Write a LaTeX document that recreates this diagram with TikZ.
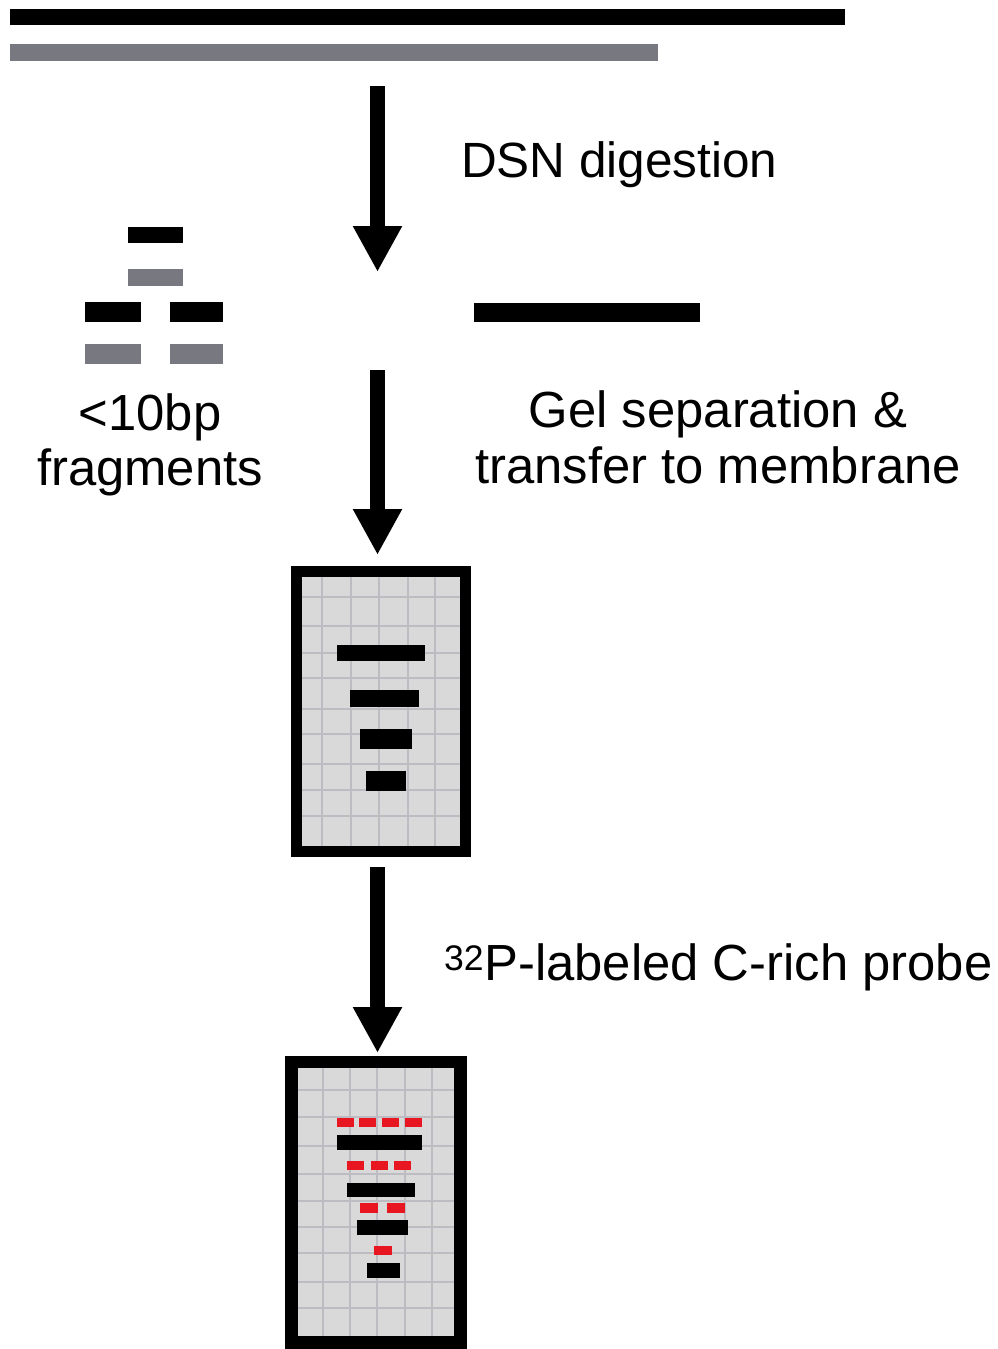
\documentclass[tikz,border=0pt]{standalone}
\usepackage{fontspec}
\setmainfont{Liberation Sans}
\usetikzlibrary{arrows.meta}
\definecolor{strandgray}{RGB}{120,120,128}
\definecolor{probered}{RGB}{232,22,32}
\definecolor{gelfill}{RGB}{217,217,217}
\definecolor{gridgray}{RGB}{188,188,194}
\tikzset{
  bigarrow/.style={line width=15pt, -{Triangle[length=46pt,width=46pt]}},
  labeltext/.style={inner sep=0pt, font=\fontsize{50.8}{56}\selectfont},
  gelbody/.style={fill=gelfill, inner sep=0pt},
  gelgrid/.style={draw=gridgray, line width=2pt},
  black strand/.style={fill=black},
  gray strand/.style={fill=strandgray},
  probe/.style={fill=probered},
}
\begin{document}
\begin{tikzpicture}[x=1pt,y=-1pt]
\useasboundingbox (0,0) rectangle (998,1349);

% duplex DNA
\fill[black strand] (10,9) rectangle (845,25);
\fill[gray strand] (10,44) rectangle (658,61);

% digestion step
\coordinate (a1s) at (377.5,86);
\coordinate (a1e) at (377.5,272);
\draw[bigarrow] (a1s) -- (a1e);
\node[labeltext, font=\fontsize{49.5}{56}\selectfont, anchor=base west] (dsn) at (461,177) {DSN digestion};

% short fragments
\fill[black strand] (128,227) rectangle (183,243);
\fill[gray strand] (128,269) rectangle (183,286);
\fill[black strand] (85,302) rectangle (141,322);
\fill[black strand] (170,302) rectangle (223,322);
\fill[gray strand] (85,344) rectangle (141,364);
\fill[gray strand] (170,344) rectangle (223,364);
\node[labeltext, anchor=base] (frag1) at (150,430) {<10bp};
\node[labeltext, anchor=base] (frag2) at (150,485) {fragments};

% surviving strand
\fill[black strand] (474,303) rectangle (700,322);

% gel step
\coordinate (a2s) at (377.5,370);
\coordinate (a2e) at (377.5,555);
\draw[bigarrow] (a2s) -- (a2e);
\node[labeltext, anchor=base] (gel1a) at (718,427) {Gel separation \&};
\node[labeltext, anchor=base] (gel1b) at (718,483) {transfer to membrane};

% membrane 1
\node[gelbody, minimum width=169pt, minimum height=280pt] (mem1) at (381,711.5) {};
\foreach \gx in {322,351,379,408,435}
  \draw[gelgrid] (\gx,572) -- (\gx,851);
\foreach \gy in {597,626,653,678,709,734,764,790,816}
  \draw[gelgrid] (297,\gy) -- (465,\gy);
\draw[line width=11pt] (mem1.north west) rectangle (mem1.south east);
\fill[black strand] (337,645) rectangle (425,661);
\fill[black strand] (350,690) rectangle (419,707);
\fill[black strand] (360,729) rectangle (412,749);
\fill[black strand] (366,771) rectangle (406,791);

% hybridisation step
\coordinate (a3s) at (377.5,867);
\coordinate (a3e) at (377.5,1053);
\draw[bigarrow] (a3s) -- (a3e);
\node[labeltext, anchor=base west] (probe) at (444,980) {\textsuperscript{32}P-labeled C-rich probe};

% membrane 2
\node[gelbody, minimum width=169pt, minimum height=280pt] (mem2) at (376,1202.25) {};
\foreach \gx in {323,350,377,405,432}
  \draw[gelgrid] (\gx,1063) -- (\gx,1342);
\foreach \gy in {1090,1117,1146,1174,1201,1227,1253,1282,1308}
  \draw[gelgrid] (292,\gy) -- (460,\gy);
\draw[line width=12.5pt] (mem2.north west) rectangle (mem2.south east);
% probe signal over the bands
\foreach \px in {337,359,382,405}
  \fill[probe] (\px,1118) rectangle ++(17,9);
\foreach \px in {347,371,394}
  \fill[probe] (\px,1161) rectangle ++(17,9);
\foreach \px in {360,387}
  \fill[probe] (\px,1203) rectangle ++(18,10);
\fill[probe] (374,1246) rectangle ++(18,9);
\fill[black strand] (337,1135) rectangle (422,1150);
\fill[black strand] (347,1183) rectangle (415,1197);
\fill[black strand] (357,1220) rectangle (408,1235);
\fill[black strand] (367,1263) rectangle (400,1278);
\end{tikzpicture}
\end{document}
